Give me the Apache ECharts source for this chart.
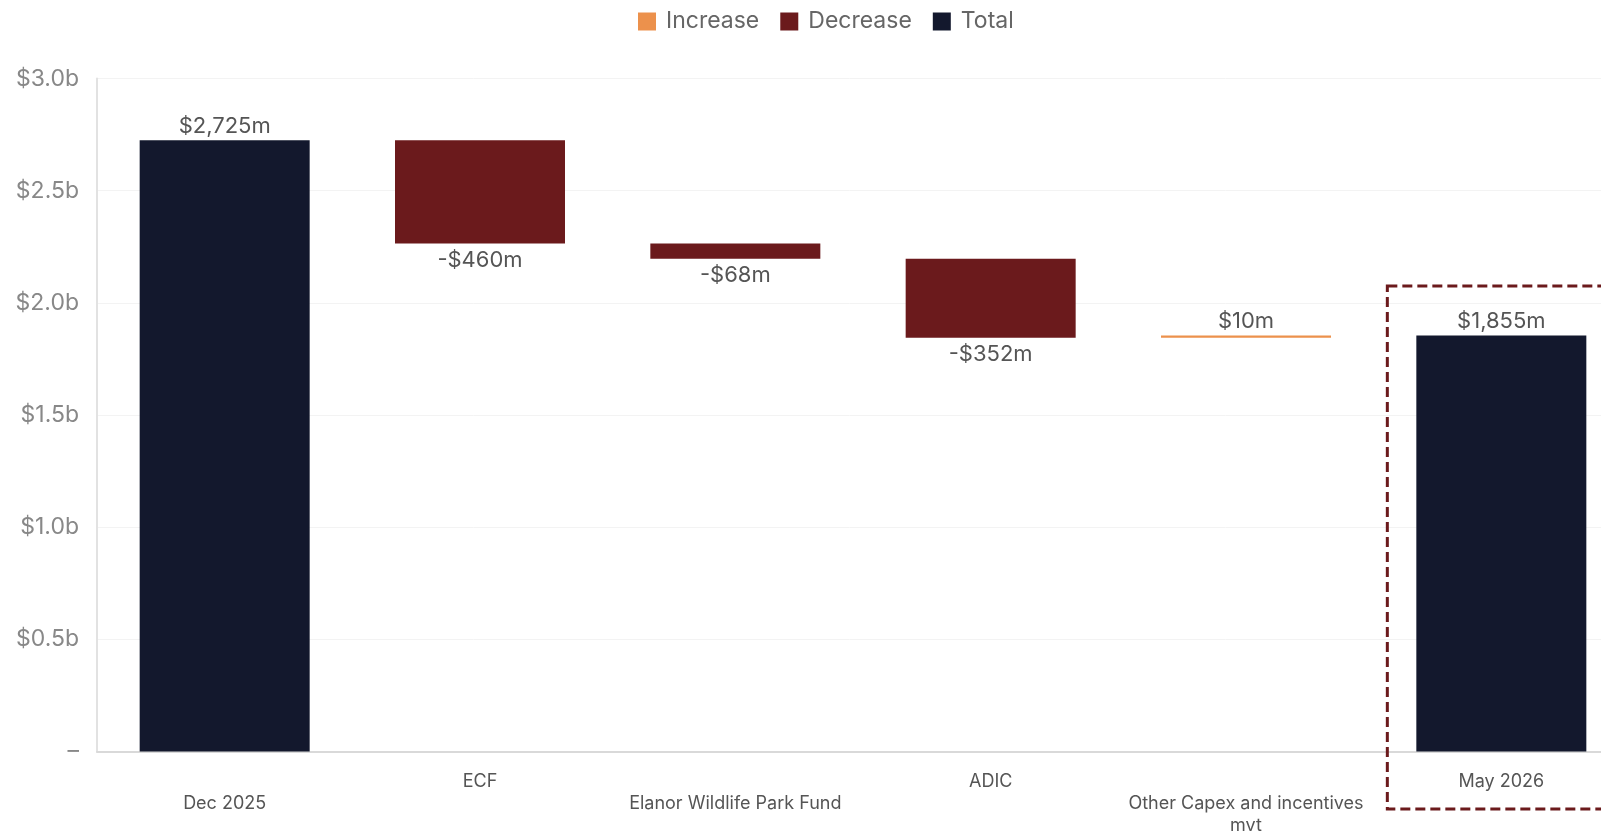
<!DOCTYPE html>
<html>
<head>
<meta charset="utf-8">
<script src="https://cdn.jsdelivr.net/npm/echarts@6/dist/echarts.min.js"></script>
<style>
  html, body { margin: 0; padding: 0; background: #fff; }
  #chart { width: 1601px; height: 834px; }
</style>
</head>
<body>
<div id="chart"></div>
<script>
// values in $m
var categories = ['Dec 2025', 'ECF', 'Elanor Wildlife Park Fund', 'ADIC', 'Other Capex and incentives mvt', 'May 2026'];
var totals = [2725, null, null, null, null, 1855];
var changes = [null, -460, -68, -352, 10, null];
var yTicks = [0, 500, 1000, 1500, 2000, 2500, 3000];

// build the waterfall stacks
var base = [], inc = [], dec = [], tot = [];
var running = 0;
for (var i = 0; i < categories.length; i++) {
  if (totals[i] != null) {
    running = totals[i];
    base.push(null); inc.push(null); dec.push(null); tot.push(totals[i]);
  } else if (changes[i] < 0) {
    running += changes[i];
    base.push(running); inc.push(null); dec.push(-changes[i]); tot.push(null);
  } else {
    base.push(running); inc.push(changes[i]); dec.push(null); tot.push(null);
    running += changes[i];
  }
}

function money(v) {
  return '$' + v.toLocaleString('en-US') + 'm';
}

var chart = echarts.init(document.getElementById('chart'));
chart.setOption({
  animation: false,
  textStyle: { fontFamily: 'Inter' },
  legend: {
    data: ['Increase', 'Decrease', 'Total'],
    left: 633,
    top: 5,
    icon: 'rect',
    itemWidth: 18,
    itemHeight: 18,
    itemGap: 21,
    textStyle: { fontSize: 23, color: '#666', fontFamily: 'Inter', padding: [0, 0, 0, 5] }
  },
  // plot runs past the right edge of the canvas (cropped last bar)
  grid: { left: 97, width: 1532, top: 78.6, bottom: 82.5, outerBoundsMode: 'none' },
  xAxis: {
    type: 'category',
    data: categories,
    axisTick: { show: false },
    axisLine: { lineStyle: { color: '#d9d9d9', width: 2 } },
    axisLabel: {
      interval: 0,
      margin: 19,
      fontSize: 18,
      color: '#555',
      lineHeight: 22,
      formatter: function (v, idx) {
        if (v === 'Other Capex and incentives mvt') v = 'Other Capex and incentives\nmvt';
        return idx % 2 === 0 ? '\n' + v : v;
      }
    }
  },
  yAxis: {
    type: 'value',
    min: yTicks[0],
    max: yTicks[yTicks.length - 1],
    interval: 500,
    axisLine: { show: true, lineStyle: { color: '#e2e2e2', width: 2 } },
    axisTick: { show: false },
    splitLine: { lineStyle: { color: '#f3f3f3' } },
    axisLabel: {
      fontSize: 23,
      color: '#888',
      margin: 18,
      formatter: function (v) {
        return v === 0 ? '–' : '$' + (v / 1000).toFixed(1) + 'b';
      }
    }
  },
  series: [
    {
      name: 'base', type: 'bar', stack: 'wf', barWidth: 170,
      itemStyle: { color: 'transparent' },
      emphasis: { disabled: true },
      data: base
    },
    {
      name: 'Increase', type: 'bar', stack: 'wf', barWidth: 170,
      itemStyle: { color: '#EC914C' },
      label: {
        show: true, position: 'top', distance: 3, fontSize: 22, color: '#555',
        formatter: function (p) { return money(p.value); }
      },
      data: inc
    },
    {
      name: 'Decrease', type: 'bar', stack: 'wf', barWidth: 170,
      itemStyle: { color: '#6B1A1C' },
      label: {
        show: true, position: 'bottom', distance: 6, fontSize: 22, color: '#555',
        formatter: function (p) { return '-' + money(p.value); }
      },
      data: dec
    },
    {
      name: 'Total', type: 'bar', stack: 'wf', barWidth: 170,
      itemStyle: { color: '#13182D' },
      label: {
        show: true, position: 'top', distance: 3, fontSize: 22, color: '#555',
        formatter: function (p) { return money(p.value); }
      },
      data: tot
    }
  ]
});

// dashed highlight box around the last total
var c = chart.convertToPixel({ xAxisIndex: 0, yAxisIndex: 0 }, [categories.length - 1, 0]);
chart.setOption({
  graphic: [{
    type: 'rect',
    shape: { x: c[0] - 114, y: 286, width: 260, height: 523 },
    style: { fill: 'none', stroke: '#6B1A1C', lineWidth: 3, lineDash: [10, 5] },
    z: 10
  }]
});
</script>
</body>
</html>
